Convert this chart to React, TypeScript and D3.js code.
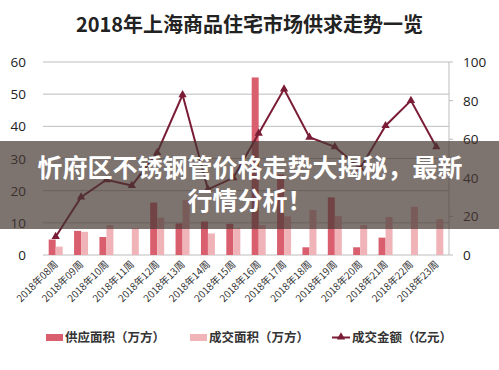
import React from "react";
import * as d3 from "d3";

const categories = [
  "2018年08周", "2018年09周", "2018年10周", "2018年11周", "2018年12周", "2018年13周",
  "2018年14周", "2018年15周", "2018年16周", "2018年17周", "2018年18周", "2018年19周",
  "2018年20周", "2018年21周", "2018年22周", "2018年23周",
];
const supplyArea = [4.8, 7.5, 5.6, 0, 16.3, 9.8, 10.4, 9.7, 55.2, 25, 2.4, 17.9, 2.4, 5.4, 0, 0];
const dealArea = [2.6, 7.2, 9.3, 8.3, 11.6, 17.1, 6.7, 8.3, 9.3, 12, 14, 12.1, 9.3, 11.8, 15, 11.1];
const dealAmount = [9.5, 30, 39, 36, 53, 83, 34, 40, 63, 86, 61, 56, 45, 67, 80, 56];
const leftTicks = [0, 10, 20, 30, 40, 50, 60];
const rightTicks = [0, 20, 40, 60, 80, 100];
const seriesNames = ["供应面积（万方）", "成交面积（万方）", "成交金额（亿元）"];
const title = "2018年上海商品住宅市场供求走势一览";
const overlayLines = ["忻府区不锈钢管价格走势大揭秘，最新", "行情分析！"];

const W = 499, H = 370;
const plot = { left: 43, right: 449, top: 62, bottom: 255 };
const C_SUPPLY = "#d95f6e";
const C_DEAL = "#f0b3b8";
const C_LINE = "#7a1c35";
const CJK = "'Noto Sans CJK SC', 'Noto Sans', sans-serif";
const NUM = "'Open Sans', 'Noto Sans', sans-serif";

export default function App() {
  const x = d3.scaleBand<string>().domain(categories).range([plot.left, plot.right]);
  const yL = d3.scaleLinear().domain([0, 60]).range([plot.bottom, plot.top]);
  const yR = d3.scaleLinear().domain([0, 100]).range([plot.bottom, plot.top]);
  const cx = (c: string) => (x(c) as number) + x.bandwidth() / 2;
  const bw = 7;
  const line = d3
    .line<number>()
    .x((_, i) => cx(categories[i]))
    .y((d) => yR(d));
  const tri = d3.symbol().type(d3.symbolTriangle).size(30)() as string;

  return (
    <svg width={W} height={H} style={{ position: "absolute", left: 0, top: 0, background: "#fff" }}>
      <text x={W / 2} y={32} textAnchor="middle" fontFamily={CJK} fontWeight="bold" fontSize={20} fill="#222">
        {title}
      </text>
      {leftTicks.map((t) => (
        <g key={"l" + t}>
          <line x1={plot.left} x2={plot.right} y1={yL(t)} y2={yL(t)} stroke="#bdbdbd" strokeWidth={1} />
          <text x={26} y={yL(t) + 5} textAnchor="end" fontFamily={NUM} fontSize={13.5} fill="#222">
            {t}
          </text>
        </g>
      ))}
      <line x1={plot.right} x2={plot.right} y1={plot.top} y2={plot.bottom} stroke="#bdbdbd" />
      {rightTicks.map((t) => (
        <g key={"r" + t}>
          <line x1={plot.right} x2={plot.right + 4} y1={yR(t)} y2={yR(t)} stroke="#bdbdbd" />
          <text x={463} y={yR(t) + 5} textAnchor="start" fontFamily={NUM} fontSize={13.5} fill="#222">
            {t}
          </text>
        </g>
      ))}
      {categories.map((c, i) => (
        <g key={c}>
          <rect x={cx(c) - bw} y={yL(supplyArea[i])} width={bw} height={plot.bottom - yL(supplyArea[i])} fill={C_SUPPLY} />
          <rect x={cx(c)} y={yL(dealArea[i])} width={bw} height={plot.bottom - yL(dealArea[i])} fill={C_DEAL} />
          <text
            transform={`translate(${cx(c) + 3},${plot.bottom + 10}) rotate(-45)`}
            textAnchor="end"
            fontFamily={CJK}
            fontSize={10}
            fill="#333"
          >
            {c}
          </text>
        </g>
      ))}
      <path d={line(dealAmount) as string} fill="none" stroke={C_LINE} strokeWidth={2} />
      {dealAmount.map((v, i) => (
        <path key={"m" + i} d={tri} transform={`translate(${cx(categories[i])},${yR(v)})`} fill={C_LINE} />
      ))}
      {/* legend */}
      <rect x={46} y={334} width={17} height={7} fill={C_SUPPLY} />
      <text x={65} y={342} fontFamily={CJK} fontWeight="bold" fontSize={12.5} fill="#333">{seriesNames[0]}</text>
      <rect x={190} y={334} width={17} height={7} fill={C_DEAL} />
      <text x={209} y={342} fontFamily={CJK} fontWeight="bold" fontSize={12.5} fill="#333">{seriesNames[1]}</text>
      <line x1={332} x2={350} y1={337.5} y2={337.5} stroke={C_LINE} strokeWidth={2} />
      <path d={tri} transform="translate(341,337)" fill={C_LINE} />
      <text x={352} y={342} fontFamily={CJK} fontWeight="bold" fontSize={12.5} fill="#333">{seriesNames[2]}</text>
      {/* overlay banner */}
      <rect x={0} y={141} width={W} height={88} fill="rgb(70,55,50)" fillOpacity={0.7} />
      <text x={250} y={177} textAnchor="middle" fontFamily={CJK} fontWeight="bold" fontSize={25} fill="#fff">
        {overlayLines[0]}
      </text>
      <text x={250} y={210} textAnchor="middle" fontFamily={CJK} fontWeight="bold" fontSize={25} fill="#fff">
        {overlayLines[1]}
      </text>
    </svg>
  );
}
